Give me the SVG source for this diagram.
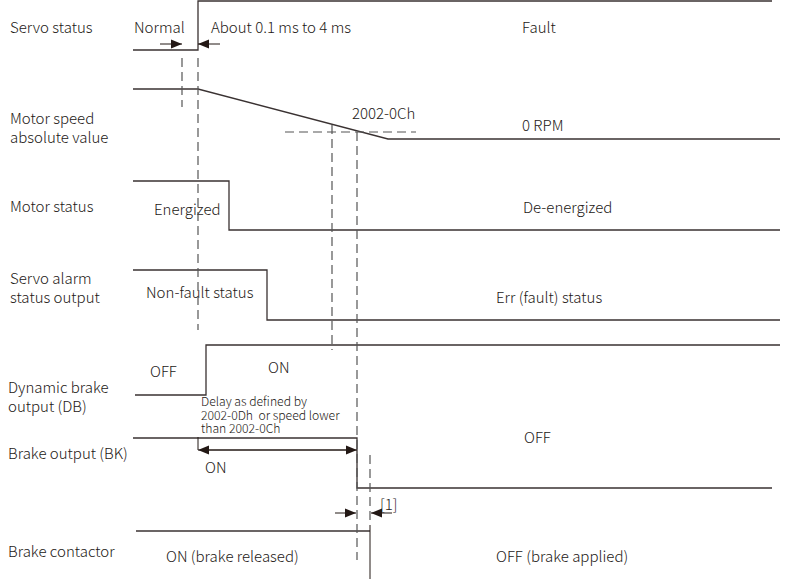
<svg xmlns="http://www.w3.org/2000/svg" width="786" height="579" viewBox="0 0 786 579">
<defs>
<style>
text{font-family:"Noto Sans CJK SC","Noto Sans",sans-serif;font-size:15px;font-weight:300;fill:#231815}
.s{font-size:12.2px}
.w{fill:none;stroke:#3a3232;stroke-width:1.3}
.d{fill:none;stroke:#555;stroke-width:1.2;stroke-dasharray:9 5}
.a{fill:none;stroke:#231815;stroke-width:1}
</style>
<marker id="ah" viewBox="0 0 10 10" refX="10" refY="5" markerWidth="11" markerHeight="11" markerUnits="userSpaceOnUse" orient="auto"><path d="M0,1 L10,5 L0,9 Z" fill="#231815"/></marker>
</defs>
<rect width="786" height="579" fill="#fff"/>
<g id="labels">
<text x="10" y="33">Servo status</text>
<text x="10" y="124">Motor speed</text>
<text x="10" y="143">absolute value</text>
<text x="10" y="212">Motor status</text>
<text x="10" y="284">Servo alarm</text>
<text x="10" y="303">status output</text>
<text x="8" y="393">Dynamic brake</text>
<text x="8" y="412">output (DB)</text>
<text x="8" y="459">Brake output (BK)</text>
<text x="8" y="557">Brake contactor</text>
</g>
<g id="servo-status">
<path class="w" d="M133,50 H198 V1 H772"/>
<text x="134" y="33">Normal</text>
<text x="211" y="33">About 0.1 ms to 4 ms</text>
<text x="522" y="33">Fault</text>
</g>
<g id="motor-speed">
<path class="w" d="M133,89 H198 L388,139 H780"/>
<text x="352" y="119">2002-0Ch</text>
<text x="522" y="131">0 RPM</text>
</g>
<g id="motor-status">
<path class="w" d="M133,181 H229 V230 H780"/>
<text x="154" y="215">Energized</text>
<text x="523" y="213">De-energized</text>
</g>
<g id="servo-alarm">
<path class="w" d="M133,270 H267 V320 H780"/>
<text x="146" y="298">Non-fault status</text>
<text x="496" y="303">Err (fault) status</text>
</g>
<g id="dynamic-brake">
<path class="w" d="M135,395 H206 V345 H780"/>
<text x="150" y="377">OFF</text>
<text x="268" y="373">ON</text>
</g>
<g id="brake-output">
<path class="w" d="M133,438 H357 V488 H772"/>
<text class="s" x="201" y="406">Delay as defined by</text>
<text class="s" x="201" y="419.5">2002-0Dh&#160; or speed lower</text>
<text class="s" x="201" y="433">than 2002-0Ch</text>
<text x="205" y="473">ON</text>
<text x="524" y="443">OFF</text>
</g>
<g id="brake-contactor">
<path class="w" d="M136,531 H370"/>
<path class="a" d="M370,525 V579"/>
<text x="166" y="562">ON (brake released)</text>
<text x="496" y="562">OFF (brake applied)</text>
</g>
<g id="connectors">
<path class="d" d="M182,58 V107"/>
<path class="d" d="M198,58 V330"/>
<path class="d" d="M285,132 H416"/>
<path class="d" d="M332,125 V350"/>
<path class="d" d="M357,132 V560"/>
<path class="d" d="M370,455 V525"/>
<path class="a" d="M198,437 V450"/>
<path class="a" d="M160,44 H182" marker-end="url(#ah)"/>
<path class="a" d="M220,44 H198" marker-end="url(#ah)"/>
<path class="a" d="M205,450 H357" marker-end="url(#ah)"/>
<path class="a" d="M350,450 H198" marker-end="url(#ah)"/>
<path class="a" d="M335,513 H356" marker-end="url(#ah)"/>
<path class="a" d="M392,513 H371" marker-end="url(#ah)"/>
<text x="380" y="510">[1]</text>
</g>
</svg>
